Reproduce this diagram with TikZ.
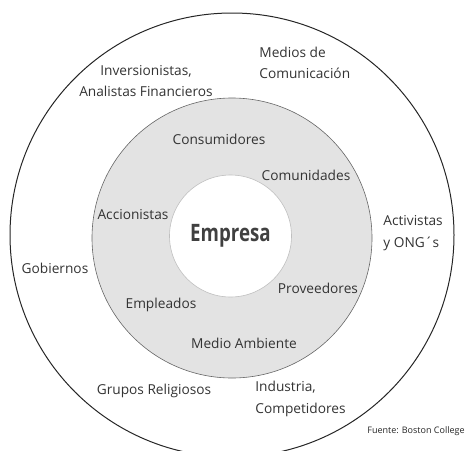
\documentclass[tikz,border=0pt]{standalone}
\usepackage{fontspec}
\setmainfont{Open Sans}
\usetikzlibrary{positioning}

\begin{document}
\begin{tikzpicture}[x=1pt, y=-1pt, thick,
      disc/.style = {circle, inner sep=0pt},
      lbl/.style = {text=black!80, inner sep=1pt, font=\fontsize{13.7}{21.5}\selectfont}]
      \useasboundingbox (0,0) rectangle (465,450);
      % circles
      \node[disc, draw=black!85, line width=1pt, minimum size=444pt] (outer) at (232,235) {};
      \node[disc, draw=black!60, fill=black!11, line width=0.6pt, minimum size=280pt] (ring) at (232,238) {};
      \node[disc, draw=black!25, fill=white, line width=0.6pt, minimum size=122pt] (core) at (230.5,236) {};
      \node[text=black!75, font=\bfseries\fontsize{24}{24}\selectfont] (empresa) at (core.center) {\scalebox{0.78}[1]{Empresa}};
      % inner ring
      \node[lbl] (cons) at (219,139) {Consumidores};
      \node[lbl] (comu) at (306,175) {Comunidades};
      \node[lbl] (acci) at (133,215) {Accionistas};
      \node[lbl] (prov) at (318,288) {Proveedores};
      \node[lbl] (empl) at (161,305) {Empleados};
      \node[lbl] (medio) at (244,343) {Medio Ambiente};
      % outer ring
      \node[lbl, align=center] (inv) at (146,81) {Inversionistas,\\Analistas Financieros};
      \node[lbl, align=left, anchor=west] (mcom) at (258,63) {Medios de\\Comunicación};
      \node[lbl, align=left, anchor=west] (act) at (382,233) {Activistas\\y ONG´s};
      \node[lbl] (gob) at (55,268) {Gobiernos};
      \node[lbl] (grup) at (154,391) {Grupos Religiosos};
      \node[lbl, align=left, anchor=west] (ind) at (254,399) {Industria,\\Competidores};
      \node[text=black!85, inner sep=0pt, font=\fontsize{9}{9}\selectfont, anchor=east] (fuente) at (465,431) {Fuente: Boston College};
    \end{tikzpicture}
\end{document}
